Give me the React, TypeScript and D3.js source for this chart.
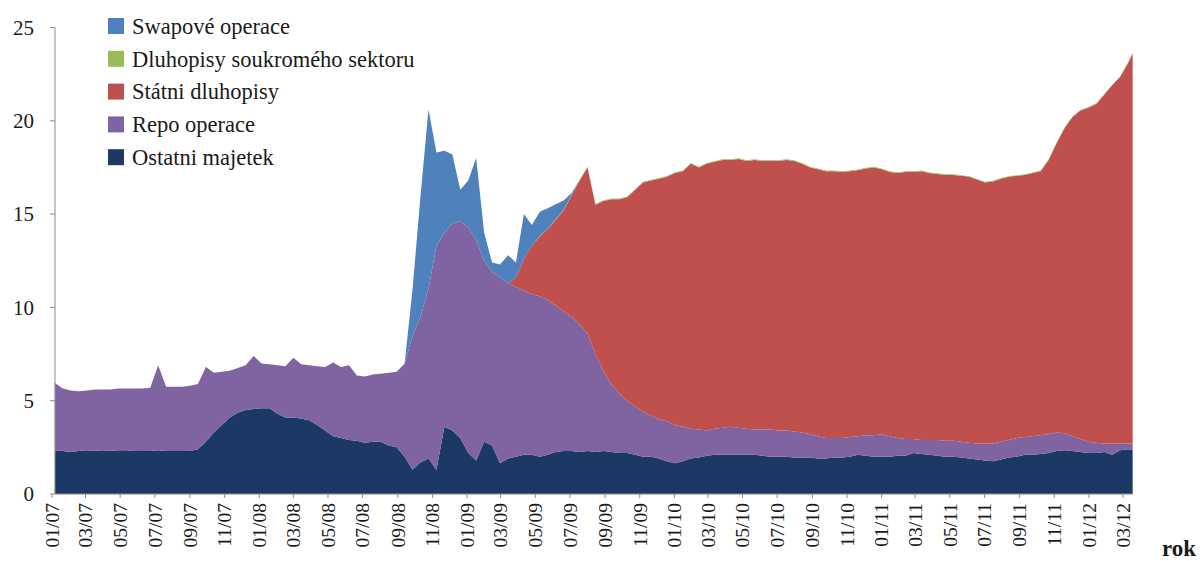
import React from 'react';
import * as d3 from 'd3';

const W = 1203;
const H = 561;

// legend order (top to bottom) and stacking order (bottom to top) differ
const legendKeys = ['swap', 'corp', 'gov', 'repo', 'other'];
const stackKeys = ['other', 'repo', 'gov', 'corp', 'swap'];
const seriesNames: Record<string, string> = {
  swap: 'Swapové operace',
  corp: 'Dluhopisy soukromého sektoru',
  gov: 'Státni dluhopisy',
  repo: 'Repo operace',
  other: 'Ostatni majetek',
};
const seriesColors: Record<string, string> = {
  swap: '#4F81BD',
  corp: '#9BBB59',
  gov: '#C0504D',
  repo: '#8064A2',
  other: '#1B3964',
};

const yTicks = [0, 5, 10, 15, 20, 25];

// observation dates: fortnightly from early January 2007, last one in mid-March 2012
const firstObs = new Date(2007, 0, 6);
const lastObs = new Date(2012, 2, 18);
const obsDates: Date[] = [...d3.range(136).map((i) => d3.timeDay.offset(firstObs, 14 * i)), lastObs];

// Ostatni majetek
const other = [
  2.35, 2.3, 2.25, 2.3, 2.35, 2.3, 2.35, 2.3, 2.35, 2.35,
  2.3, 2.3, 2.3, 2.35, 2.3, 2.3, 2.3, 2.3, 2.4, 2.8,
  3.3, 3.7, 4.1, 4.35, 4.5, 4.55, 4.6, 4.6, 4.3, 4.1,
  4.1, 4.05, 3.95, 3.7, 3.4, 3.1, 3.0, 2.9, 2.85, 2.75,
  2.8, 2.8, 2.6, 2.5, 2.0, 1.3, 1.7, 1.9, 1.3, 3.6,
  3.4, 3.0, 2.2, 1.8, 2.8, 2.6, 1.65, 1.9, 2.0, 2.1,
  2.1, 2.0, 2.1, 2.25, 2.3, 2.3, 2.25, 2.3, 2.25, 2.3,
  2.25, 2.2, 2.2, 2.1, 2.0, 2.0, 1.9, 1.75, 1.65, 1.75,
  1.9, 1.95, 2.05, 2.1, 2.1, 2.1, 2.1, 2.1, 2.1, 2.05,
  2.0, 2.0, 2.0, 1.95, 1.95, 1.95, 1.9, 1.9, 1.95, 1.95,
  2.0, 2.1, 2.05, 2.0, 2.0, 2.0, 2.05, 2.05, 2.2, 2.15,
  2.1, 2.05, 2.0, 2.0, 1.95, 1.9, 1.85, 1.8, 1.75, 1.85,
  1.95, 2.0, 2.1, 2.1, 2.15, 2.2, 2.3, 2.35, 2.3, 2.25,
  2.2, 2.2, 2.25, 2.1, 2.35, 2.4, 2.35,
];

// Repo operace
const repo = [
  3.6, 3.35, 3.3, 3.2, 3.2, 3.3, 3.25, 3.3, 3.3, 3.3,
  3.35, 3.35, 3.4, 4.55, 3.45, 3.45, 3.45, 3.5, 3.5, 4.0,
  3.2, 2.85, 2.5, 2.4, 2.4, 2.85, 2.4, 2.35, 2.6, 2.75,
  3.2, 2.9, 2.95, 3.15, 3.4, 3.95, 3.8, 4.0, 3.5, 3.55,
  3.6, 3.65, 3.9, 4.05, 5.0, 7.2, 7.8, 9.1, 12.0, 10.4,
  11.1, 11.6, 12.1, 11.8, 9.7, 9.3, 9.95, 9.4, 9.1, 8.8,
  8.6, 8.6, 8.3, 7.85, 7.5, 7.2, 6.85, 6.3, 5.25, 4.3,
  3.65, 3.2, 2.8, 2.6, 2.4, 2.2, 2.1, 2.15, 2.05, 1.85,
  1.6, 1.5, 1.35, 1.4, 1.45, 1.5, 1.45, 1.4, 1.35, 1.4,
  1.45, 1.4, 1.4, 1.4, 1.35, 1.25, 1.2, 1.1, 1.05, 1.05,
  1.05, 1.0, 1.1, 1.15, 1.2, 1.1, 0.95, 0.9, 0.75, 0.75,
  0.8, 0.85, 0.85, 0.85, 0.85, 0.85, 0.85, 0.9, 0.95, 0.95,
  0.95, 1.0, 0.95, 1.0, 1.0, 1.0, 1.0, 0.9, 0.8, 0.7,
  0.6, 0.55, 0.45, 0.6, 0.35, 0.3, 0.35,
];

// Státni dluhopisy
const gov = [
  0, 0, 0, 0, 0, 0, 0, 0, 0, 0,
  0, 0, 0, 0, 0, 0, 0, 0, 0, 0,
  0, 0, 0, 0, 0, 0, 0, 0, 0, 0,
  0, 0, 0, 0, 0, 0, 0, 0, 0, 0,
  0, 0, 0, 0, 0, 0, 0, 0, 0, 0,
  0, 0, 0, 0, 0, 0, 0, 0, 0.5, 1.7,
  2.6, 3.2, 3.8, 4.6, 5.4, 6.5, 7.7, 8.9, 8.0, 9.1,
  9.9, 10.4, 10.9, 11.6, 12.3, 12.6, 12.9, 13.1, 13.5, 13.7,
  14.2, 14.05, 14.3, 14.3, 14.35, 14.3, 14.4, 14.35, 14.45, 14.4,
  14.4, 14.45, 14.5, 14.5, 14.4, 14.3, 14.3, 14.3, 14.3, 14.25,
  14.25, 14.25, 14.3, 14.35, 14.2, 14.15, 14.2, 14.3, 14.3, 14.4,
  14.3, 14.25, 14.25, 14.25, 14.25, 14.25, 14.15, 14.0, 14.05, 14.1,
  14.1, 14.05, 14.05, 14.1, 14.15, 14.7, 15.5, 16.35, 17.1, 17.6,
  17.9, 18.15, 18.7, 19.2, 19.65, 20.4, 20.9,
];

// Dluhopisy soukromého sektoru
const corp = [
  0, 0, 0, 0, 0, 0, 0, 0, 0, 0,
  0, 0, 0, 0, 0, 0, 0, 0, 0, 0,
  0, 0, 0, 0, 0, 0, 0, 0, 0, 0,
  0, 0, 0, 0, 0, 0, 0, 0, 0, 0,
  0, 0, 0, 0, 0, 0, 0, 0, 0, 0,
  0, 0, 0, 0, 0, 0, 0, 0, 0, 0,
  0.01, 0.02, 0.02, 0.03, 0.03, 0.03, 0.04, 0.04, 0.04, 0.04,
  0.04, 0.04, 0.04, 0.04, 0.04, 0.04, 0.04, 0.04, 0.04, 0.04,
  0.04, 0.04, 0.04, 0.04, 0.04, 0.04, 0.04, 0.04, 0.04, 0.04,
  0.04, 0.04, 0.04, 0.04, 0.04, 0.04, 0.04, 0.04, 0.04, 0.04,
  0.04, 0.04, 0.04, 0.04, 0.04, 0.04, 0.04, 0.04, 0.04, 0.04,
  0.035, 0.035, 0.035, 0.035, 0.035, 0.035, 0.035, 0.035, 0.035, 0.035,
  0.035, 0.035, 0.035, 0.035, 0.035, 0.035, 0.035, 0.035, 0.035, 0.035,
  0.035, 0.035, 0.035, 0.035, 0.035, 0.035, 0.035,
];

// Swapové operace
const swap = [
  0, 0, 0, 0, 0, 0, 0, 0, 0, 0,
  0, 0, 0, 0, 0, 0, 0, 0, 0, 0,
  0, 0, 0, 0, 0, 0, 0, 0, 0, 0,
  0, 0, 0, 0, 0, 0, 0, 0, 0, 0,
  0, 0, 0, 0, 0, 2.5, 6.5, 9.6, 5.0, 4.4,
  3.7, 1.7, 2.5, 4.4, 1.5, 0.5, 0.7, 1.5, 0.8, 2.4,
  1.1, 1.3, 1.1, 0.8, 0.5, 0.1, 0, 0, 0, 0,
  0, 0, 0, 0, 0, 0, 0, 0, 0, 0,
  0, 0, 0, 0, 0, 0, 0, 0, 0, 0,
  0, 0, 0, 0, 0, 0, 0, 0, 0, 0,
  0, 0, 0, 0, 0, 0, 0, 0, 0, 0,
  0, 0, 0, 0, 0, 0, 0, 0, 0, 0,
  0, 0, 0, 0, 0, 0, 0, 0, 0, 0,
  0, 0, 0, 0, 0, 0, 0,
];

const valuesByKey: Record<string, number[]> = { other, repo, gov, corp, swap };

type Row = { date: Date; [k: string]: any };

const rows: Row[] = obsDates.map((date, i) => {
  const r: Row = { date };
  stackKeys.forEach((k) => {
    r[k] = valuesByKey[k][i] ?? 0;
  });
  return r;
});

const SERIF = 'Liberation Serif, Times New Roman, DejaVu Serif, serif';
const INK = '#1a1a1a';
const AXIS = '#8c8c8c';

export default function App() {
  const x = d3
    .scaleTime()
    .domain([new Date(2007, 0, 1), new Date(2012, 2, 1)])
    .range([52, 1123]);
  const y = d3.scaleLinear().domain([0, 25]).range([494, 27.5]);

  const stacked = d3.stack<Row>().keys(stackKeys)(rows);
  const area = d3
    .area<d3.SeriesPoint<Row>>()
    .x((d) => x(d.data.date))
    .y0((d) => y(d[0]))
    .y1((d) => y(d[1]));

  const monthTicks = d3.timeMonth.every(2)!.range(new Date(2007, 0, 1), new Date(2012, 3, 1));
  const fmt = d3.timeFormat('%m/%y');

  const axisLeft = 55;
  const axisRight = x(lastObs);

  return (
    <svg
      width={W}
      height={H}
      viewBox={`0 0 ${W} ${H}`}
      style={{ position: 'absolute', left: 0, top: 0, background: '#fff' }}
    >
      <rect x={0} y={0} width={W} height={H} fill="#fff" />

      {stacked.map((s) => (
        <path key={s.key} d={area(s) || ''} fill={seriesColors[s.key]} />
      ))}

      {/* value axis */}
      <line x1={axisLeft} x2={axisLeft} y1={y(25)} y2={y(0)} stroke={AXIS} strokeWidth={1} />
      {yTicks.map((t) => (
        <g key={t}>
          <line x1={axisLeft - 5} x2={axisLeft} y1={y(t)} y2={y(t)} stroke={AXIS} />
          <text
            x={34}
            y={y(t)}
            dy="0.35em"
            textAnchor="end"
            fontFamily={SERIF}
            fontSize={21}
            fill={INK}
          >
            {t}
          </text>
        </g>
      ))}

      {/* time axis */}
      <line x1={axisLeft} x2={axisRight} y1={y(0)} y2={y(0)} stroke={AXIS} />
      {monthTicks.map((m) => (
        <g key={m.getTime()}>
          <line x1={x(m)} x2={x(m)} y1={y(0)} y2={y(0) + 4} stroke={AXIS} />
          <text
            transform={`translate(${x(m)},${y(0) + 9}) rotate(-90)`}
            dy="0.35em"
            textAnchor="end"
            fontFamily={SERIF}
            fontSize={19.5}
            fill={INK}
          >
            {fmt(m)}
          </text>
        </g>
      ))}
      <text x={1162} y={556} fontFamily={SERIF} fontSize={23} fontWeight="bold" fill={INK}>
        rok
      </text>

      {/* legend */}
      {legendKeys.map((k, i) => {
        const cy = 26 + i * 32.8;
        return (
          <g key={k}>
            <rect x={108} y={cy - 8} width={16} height={16} fill={seriesColors[k]} />
            <text
              x={132}
              y={cy}
              dy="0.35em"
              fontFamily={SERIF}
              fontSize={22.5}
              fill={INK}
            >
              {seriesNames[k]}
            </text>
          </g>
        );
      })}
    </svg>
  );
}
